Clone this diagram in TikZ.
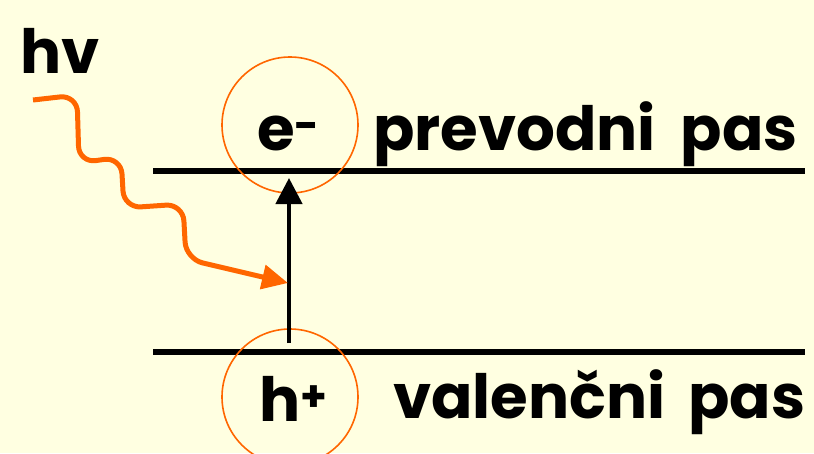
\documentclass[tikz,border=0pt]{standalone}
\usepackage{fontspec}
\setmainfont{Poppins}
\usetikzlibrary{arrows.meta}
\definecolor{slide}{RGB}{255,255,225}
\definecolor{foton}{RGB}{255,102,0}
\tikzset{pas/.style={line width=6pt},
  krog/.style={circle,draw=foton,line width=1.6pt,minimum size=136pt,inner sep=0pt},
  napis/.style={anchor=base west,inner sep=0pt,font=\fontsize{61}{70}\selectfont\bfseries}}
\begin{document}
\begin{tikzpicture}[x=1pt,y=-1pt]
 \fill[slide] (0,0) rectangle (814,453);
 \useasboundingbox (0,0) rectangle (814,453);
 % pasova
 \coordinate (p1) at (153,171); \coordinate (p2) at (805,171);
 \coordinate (v1) at (153,352); \coordinate (v2) at (805,352);
 \draw[pas] (p1)--(p2);
 \draw[pas] (v1)--(v2);
 \node[krog] (ek) at (290,125) {};
 \node[krog] (hk) at (290,397) {};
 % prehod
 \coordinate (a0) at (289,343); \coordinate (a1) at (289,178);
 \draw[line width=4.5pt,-{Triangle[length=26pt,width=26pt]}] (a0)--(a1);
 % foton
 \coordinate (f0) at (33,100); \coordinate (f1) at (288,283);
 \draw[foton,line width=5pt,rounded corners=17pt,-{Triangle[length=26pt,width=24pt]}]
   (f0)--(77,95)--(79,163)--(121,157)--(124,208)--(183,204)--(186,259)--(f1);
 % napisi
 \node[napis] (hv) at (20,73) {hv};
 \node[napis] (e) at (257,150) {e\textsuperscript{-}};
 \node[napis] (pp) at (373,150) {prevodni\hspace{12pt} pas};
 \node[napis] (h) at (259,421) {h\textsuperscript{+}};
 \node[napis] (vp) at (393,418) {valenčni\hspace{10pt} pas};
\end{tikzpicture}
\end{document}
